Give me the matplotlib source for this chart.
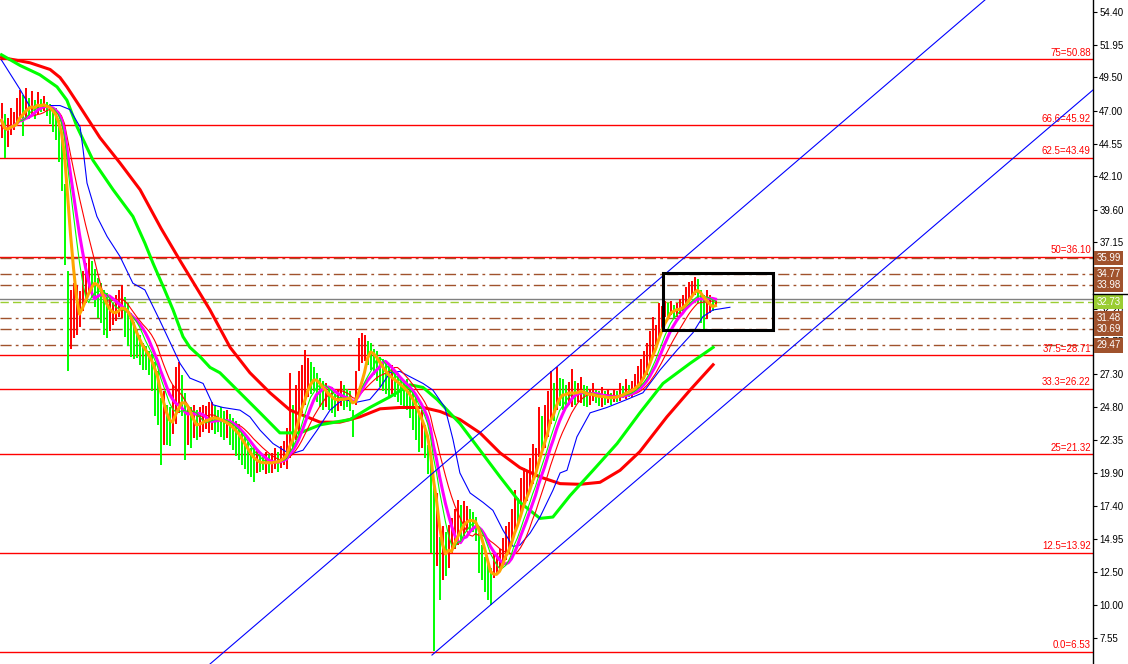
import numpy as np
import pandas as pd
import matplotlib
matplotlib.use('Agg')
import matplotlib.pyplot as plt
import matplotlib.transforms as mtransforms
from matplotlib.patches import Rectangle

plt.rcParams['font.family'] = ['Liberation Sans', 'DejaVu Sans']

# 每根K线的最高价 / 最低价
highs = [47.6, 46.8, 46.5, 47.2, 46.9, 48.0, 48.6, 48.2, 48.7, 48.0,
         48.5, 47.8, 48.4, 47.9, 48.1, 47.7, 47.5, 47.3, 47.2, 46.3,
         45.0, 41.5, 35.0, 33.6, 34.1, 34.0, 33.5, 35.0, 35.6, 36.1,
         35.8, 35.2, 34.5, 34.1, 33.6, 33.4, 33.0, 32.6, 33.2, 33.6,
         34.0, 33.1, 32.6, 31.9, 31.2, 30.6, 30.2, 29.6, 29.4, 29.0,
         28.8, 28.2, 27.5, 25.5, 26.0, 25.0, 24.8, 26.5, 27.8, 28.2,
         27.2, 25.9, 25.0, 24.8, 25.0, 24.6, 24.8, 25.0, 24.9, 25.2,
         25.2, 24.9, 24.6, 24.8, 24.5, 24.6, 24.3, 24.0, 23.8, 23.6,
         23.0, 22.6, 22.2, 21.8, 21.9, 21.6, 21.4, 21.2, 21.5, 21.3,
         21.4, 21.8, 21.5, 21.9, 22.3, 23.3, 27.4, 25.0, 26.5, 27.5,
         28.0, 29.1, 28.5, 28.2, 27.8, 27.4, 27.0, 26.8, 26.6, 26.4,
         26.3, 25.8, 26.2, 26.8, 26.5, 26.2, 26.0, 24.6, 27.5, 30.0,
         30.4, 30.2, 29.8, 29.6, 29.2, 29.0, 28.6, 28.4, 28.2, 28.0,
         28.0, 27.6, 27.4, 27.0, 26.8, 26.9, 26.5, 26.0, 25.6, 24.4,
         24.6, 23.5, 22.0, 21.1, 19.4, 18.4, 15.1, 15.9, 15.5, 16.0,
         16.5, 17.2, 17.9, 17.5, 17.8, 17.4, 17.2, 17.0, 16.6, 15.4,
         14.5, 13.6, 13.2, 12.8, 13.9, 13.8, 14.2, 15.0, 15.9, 16.2,
         17.2, 18.6, 18.0, 19.5, 20.3, 20.0, 21.0, 22.1, 21.8, 24.8,
         24.2, 25.0, 26.0, 27.5, 26.6, 27.8, 27.0, 26.9, 26.5, 26.7,
         27.7, 26.8, 26.6, 27.1, 26.5, 26.4, 26.2, 26.6, 26.1, 26.0,
         26.3, 26.0, 26.2, 25.9, 26.1, 26.0, 26.6, 26.4, 26.9, 26.5,
         26.8, 27.3, 27.9, 28.4, 29.0, 29.6, 30.5, 31.6, 31.0, 32.6,
         32.4, 32.8, 32.6, 32.8, 32.5, 32.6, 32.9, 33.2, 33.8, 34.2,
         34.3, 34.6, 34.4, 33.6, 33.2, 33.6, 33.2, 33.0, 32.8]
lows = [45.0, 43.5, 44.3, 45.2, 45.6, 45.9, 46.2, 45.1, 46.5, 46.4,
        46.8, 46.4, 46.8, 46.9, 47.0, 46.6, 46.0, 45.4, 44.8, 43.2,
        41.0, 35.5, 27.5, 29.2, 30.0, 30.2, 30.8, 32.0, 32.6, 33.3,
        33.0, 32.3, 31.5, 31.1, 30.2, 30.0, 30.5, 31.0, 31.3, 31.6,
        31.5, 30.1, 29.4, 28.6, 28.4, 28.5, 28.0, 27.6, 27.6, 27.2,
        26.0, 24.2, 23.5, 20.5, 22.0, 22.0, 21.9, 22.8, 23.6, 24.4,
        24.2, 20.9, 22.0, 21.8, 22.5, 22.4, 22.6, 23.0, 23.2, 22.9,
        23.1, 22.8, 23.0, 22.6, 22.4, 22.5, 22.0, 21.6, 21.2, 20.9,
        20.5, 20.2, 19.8, 19.6, 19.2, 19.9, 20.0, 20.1, 19.8, 19.9,
        19.9, 20.2, 20.0, 20.3, 20.5, 20.2, 21.0, 21.5, 22.4, 23.0,
        24.4, 25.0, 25.6, 25.8, 26.0, 25.2, 24.8, 24.6, 24.8, 24.6,
        24.4, 24.1, 24.5, 24.9, 24.6, 24.8, 24.5, 22.6, 25.0, 27.5,
        28.1, 28.3, 28.0, 27.6, 27.2, 26.8, 26.3, 26.0, 25.8, 25.6,
        25.8, 25.6, 25.2, 25.0, 24.8, 24.6, 24.0, 23.1, 22.4, 21.5,
        21.8, 21.0, 19.8, 13.9, 6.6, 12.9, 10.4, 11.9, 12.2, 12.8,
        13.9, 14.2, 14.5, 14.8, 15.2, 15.6, 15.4, 15.5, 14.8, 12.4,
        11.9, 11.0, 10.4, 10.0, 12.0, 12.4, 12.6, 13.2, 13.4, 13.8,
        14.9, 15.6, 16.0, 16.8, 17.4, 17.8, 18.6, 19.1, 19.8, 21.1,
        21.4, 21.8, 22.6, 23.6, 23.8, 24.6, 24.9, 24.6, 24.8, 25.0,
        24.8, 25.0, 25.2, 25.1, 24.9, 24.8, 25.0, 25.3, 25.1, 24.9,
        24.8, 25.0, 25.1, 25.0, 25.2, 25.2, 25.3, 25.5, 25.4, 25.6,
        25.6, 25.9, 26.0, 26.3, 26.9, 27.2, 28.1, 28.6, 29.2, 30.1,
        30.5, 31.6, 31.5, 31.7, 31.5, 31.6, 31.8, 32.0, 32.6, 32.9,
        33.1, 33.2, 32.6, 31.1, 30.6, 31.4, 31.9, 32.0, 32.5]

# 长周期均线（按K线序号估读）
ma_red_idx = [0, 9.5, 16.2, 19.5, 21.8, 26.2, 32.8, 39.5, 46.2, 53.2, 59.5,
              69.5, 76.2, 82.8, 89.5, 96.2, 106.2, 112.8, 119.5, 126.2, 132.8,
              140.5, 146.2, 152.8, 159.5, 166.2, 172.8, 179.5, 186.2, 192.8,
              199.5, 206.2, 212.8, 221.8, 229.5, 237.2]
ma_red_val = [51.0, 50.6, 50.1, 49.5, 48.8, 47.3, 45.0, 43.1, 41.1, 38.2, 35.8,
              32.1, 29.3, 27.4, 25.9, 24.6, 23.7, 23.7, 24.1, 24.7, 24.8,
              24.8, 24.5, 23.9, 22.9, 21.4, 20.3, 19.6, 19.1, 19.05,
              19.2, 20.1, 21.5, 24.1, 26.1, 28.0]

ma_green_idx = [0, 6.2, 12.8, 18.5, 21.8, 25.2, 30.5, 37.2, 43.8, 47.8, 50.5,
                54.0, 57.2, 60.5, 62.8, 66.2, 69.5, 72.8, 79.5, 86.2, 92.8,
                99.5, 106.2, 116.2, 122.8, 129.5, 136.2, 140.5, 145.2, 152.8,
                159.5, 166.2, 172.8, 179.5, 183.8, 189.5, 197.2, 205.2, 212.8,
                220.5, 229.5, 237.2]
ma_green_val = [51.2, 50.4, 49.7, 48.8, 47.8, 45.8, 43.3, 41.1, 39.1, 37.1, 35.6,
                33.8, 32.1, 30.1, 29.3, 28.6, 27.8, 27.4, 25.9, 24.4, 22.9,
                22.9, 23.5, 23.9, 24.8, 25.6, 26.5, 26.3, 25.4, 23.6,
                21.6, 19.6, 17.7, 16.5, 16.6, 18.2, 20.1, 22.1, 24.4,
                26.6, 28.1, 29.3]

ma_blue_idx = [0, 6.2, 9.5, 12.8, 19.5, 22.8, 26.2, 27.2, 28.5, 31.8, 35.2,
               39.5, 43.8, 47.8, 52.8, 59.5, 62.8, 67.2, 70.5, 73.8, 79.5,
               82.8, 86.2, 90.5, 96.2, 100.5, 105.2, 109.5, 113.8, 118.5,
               122.8, 126.2, 129.5, 132.8, 136.2, 140.5, 143.8, 147.8, 150.5,
               152.8, 156.2, 160.5, 163.8, 167.2, 170.5, 172.8, 176.2, 179.5,
               183.8, 186.2, 188.5, 191.8, 196.2, 201.8, 208.5, 213.8, 219.5,
               225.2, 230.5, 233.8, 237.2, 242.8]
ma_blue_val = [50.8, 48.6, 47.3, 47.4, 47.4, 47.1, 45.8, 44.1, 41.6, 39.1, 37.6,
               36.1, 34.1, 33.6, 31.3, 28.1, 27.0, 26.6, 25.0, 24.8, 24.6,
               24.1, 23.1, 22.1, 21.3, 21.6, 23.1, 24.6, 25.4, 25.2,
               25.4, 26.3, 27.4, 27.5, 27.1, 26.6, 26.1, 24.8, 22.4,
               19.9, 18.4, 17.7, 17.1, 15.6, 14.4, 14.5, 15.4, 16.6,
               18.6, 19.9, 20.1, 22.6, 24.4, 24.8, 25.4, 25.9, 27.6,
               29.1, 30.4, 31.6, 32.1, 32.3]

# 黄金分割线
fib_names = ['0.0', '12.5', '25', '33.3', '37.5', '50', '62.5', '66.6', '75']
fib_prices = [6.53, 13.92, 21.32, 26.22, 28.71, 36.10, 43.49, 45.92, 50.88]

# 挂单价位 / 当前价
order_prices = [35.99, 34.77, 33.98, 31.48, 30.69, 29.47]
bid_price = 32.73
ask_price = 32.90

# 通道线与方框（K线序号, 价格）
channel_upper = [(69.5, 5.6), (327.8, 55.3)]
channel_lower = [(143.5, 6.27), (363.8, 48.56)]
box_idx = (220.5, 257.2)
box_price = (30.60, 34.86)

ticks = [54.40, 51.95, 49.50, 47.00, 44.55, 42.10, 39.60, 37.15, 34.70, 32.20,
         29.75, 27.30, 24.80, 22.35, 19.90, 17.40, 14.95, 12.50, 10.00, 7.55]
# 34.70 被挂单价框完全遮住
tick_labels = ['54.40', '51.95', '49.50', '47.00', '44.55', '42.10', '39.60', '37.15',
               '', '32.20', '29.75', '27.30', '24.80', '22.35', '19.90', '17.40',
               '14.95', '12.50', '10.00', '7.55']

# 计算短周期均线
mid = (np.array(highs) + np.array(lows)) / 2
s = pd.Series(mid)
ma5 = s.rolling(5, min_periods=1).mean()
ma8 = s.rolling(8, min_periods=1).mean()
ma10 = s.rolling(10, min_periods=1).mean()
ma14 = s.rolling(14, min_periods=1).mean()
idx = np.arange(len(highs))
bar_colors = ['#FF0000' if i == 0 or mid[i] >= mid[i - 1] else '#00FF00' for i in idx]

fig = plt.figure(figsize=(11.28, 6.64), dpi=100)
ax = fig.add_axes([0, 0, 1093 / 1128, 1])
ax.set_xlim(-0.5, 1093 / 3 - 0.5)
ax.set_ylim(5.60, 55.30)

# 水平线
for name, p in zip(fib_names, fib_prices):
    ax.axhline(p, color='#FF0000', lw=1.0, zorder=1)
    ax.annotate(f'{name}={p:.2f}', xy=(0.998, p), xycoords=('axes fraction', 'data'),
                xytext=(0, 1), textcoords='offset points', ha='right', va='bottom',
                color='#FF0000', fontsize=7)
for p in order_prices:
    ax.axhline(p, color='#A0522D', lw=1.0, dashes=(8, 3, 2, 3), zorder=1)
ax.axhline(ask_price, color='#808080', lw=1.0, zorder=1)
ax.axhline(bid_price, color='#9ACD32', lw=1.0, dashes=(6, 3), zorder=1)

# K线
ax.vlines(idx, lows, highs, colors=bar_colors, lw=1.4, zorder=2)

# 均线
ax.plot(ma_red_idx, ma_red_val, color='#FF0000', lw=2.2, zorder=3)
ax.plot(ma_green_idx, ma_green_val, color='#00FF00', lw=2.2, zorder=3)
ax.plot(ma_blue_idx, ma_blue_val, color='#0000FF', lw=0.8, zorder=3)
ax.plot(idx, ma14, color='#FF0000', lw=0.8, zorder=3)
ax.plot(idx, ma10, color='#FF00FF', lw=2.2, zorder=3)
ax.plot(idx, ma8, color='#00FF00', lw=0.8, zorder=3)
ax.plot(idx, ma5, color='#FFA500', lw=2.2, zorder=3)

# 通道线
for ch in (channel_upper, channel_lower):
    ax.plot([ch[0][0], ch[1][0]], [ch[0][1], ch[1][1]], color='#0000FF', lw=0.8, zorder=3)

ax.add_patch(Rectangle((box_idx[0], box_price[0]), box_idx[1] - box_idx[0],
                       box_price[1] - box_price[0], fill=False, ec='black', lw=2.2, zorder=4))

# 右侧坐标轴
for sp in ('left', 'top', 'bottom'):
    ax.spines[sp].set_visible(False)
ax.spines['right'].set_color('black')
ax.spines['right'].set_linewidth(1.0)
ax.set_xticks([])
ax.yaxis.tick_right()
ax.set_yticks(ticks)
ax.set_yticklabels(tick_labels)
ax.tick_params(axis='y', length=3, width=0.8, pad=1.5, labelsize=7, colors='black')

trans = mtransforms.blended_transform_factory(ax.transAxes, ax.transData)
for p in order_prices:
    ax.text(1.003, p, f'{p:.2f}', transform=trans, ha='left', va='center', color='white',
            fontsize=7, clip_on=False, zorder=10,
            bbox=dict(boxstyle='square,pad=0.25', fc='#A0522D', ec='none'))
ax.text(1.003, bid_price, f'{bid_price:.2f}', transform=trans, ha='left', va='center',
        color='white', fontsize=7, clip_on=False, zorder=10,
        bbox=dict(boxstyle='square,pad=0.25', fc='#9ACD32', ec='none'))
ax.plot([1.0, 1128 / 1093], [33.30, 33.30], transform=trans, color='black', lw=1.0,
        clip_on=False, zorder=10)

fig.savefig('out.png', dpi=100)
